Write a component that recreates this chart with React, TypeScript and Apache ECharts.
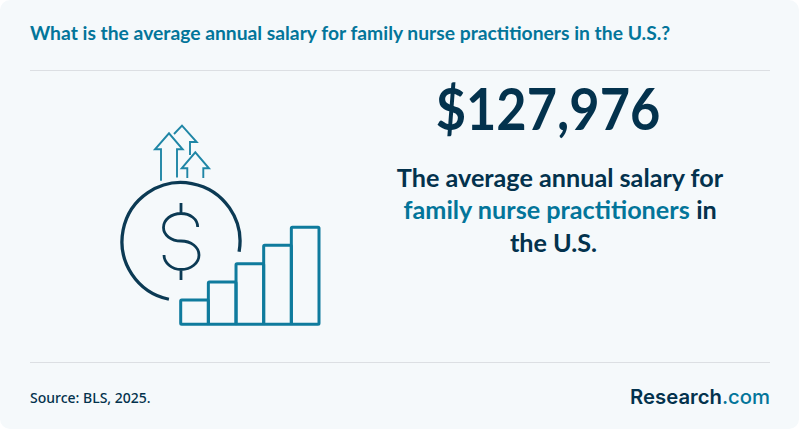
import React, { useEffect, useRef } from "react";
import * as echarts from "echarts";

const titleText = "What is the average annual salary for family nurse practitioners in the U.S.?";
const headlineValue = "$127,976";
const descriptionLines = ["The average annual salary for", "family nurse practitioners", " in", "the U.S."];
const sourceText = "Source: BLS, 2025.";
const logoParts = ["Research", ".com"];

// the stairs in the icon
const stepNames = ["a", "b", "c", "d", "e"];
const stepValues = [27.3, 45.3, 63.6, 82, 100];

const NAVY = "#03324d";
const TEAL = "#03759a";
const ARROW = "#1f86a6";
const RULE = "#dcdfe3";
const BG = "#f5f9fb";

const dollarPath =
  "M197.7 227C197.7 219 190 213.5 181 213.5C171 213.5 163.5 220 163.5 227.5C163.5 235 171 241 181 241C191 241 199 247 199 255C199 263 191 269.5 181 269.5C172 269.5 164 263 164 255M181 203V213.5M181 269.5V280";

echarts.graphic.registerShape("dollarSign", echarts.graphic.extendPath(dollarPath, {}) as any);

const deg = (d: number) => (d * Math.PI) / 180;

const App: React.FC = () => {
  const chartRef = useRef<HTMLDivElement>(null);

  useEffect(() => {
    if (!chartRef.current) return;
    const chart = echarts.init(chartRef.current, undefined, { renderer: "svg" });

    const arrowStyle = { stroke: ARROW, fill: "none", lineWidth: 1.9 };

    const option: any = {
      animation: false,
      backgroundColor: "#ffffff",
      grid: { left: 180.7, top: 225.8, width: 138.3, height: 100, containLabel: false },
      xAxis: { type: "category", data: stepNames, show: false },
      yAxis: { type: "value", min: 0, max: 100, show: false },
      series: [
        {
          type: "bar",
          data: stepValues,
          barWidth: 30.66,
          silent: true,
          z: 5,
          itemStyle: { color: "rgba(0,0,0,0)", borderColor: "#0f7b9d", borderWidth: 3, borderRadius: 1 },
        },
      ],
      graphic: [
        { type: "rect", z: -10, shape: { x: 0, y: 0, width: 799, height: 429, r: 10 }, style: { fill: BG } },
        { type: "line", shape: { x1: 30, y1: 70.5, x2: 770, y2: 70.5 }, style: { stroke: RULE, lineWidth: 1 } },
        { type: "line", shape: { x1: 30, y1: 362.5, x2: 770, y2: 362.5 }, style: { stroke: RULE, lineWidth: 1 } },
        {
          type: "text",
          x: 30,
          y: 32,
          style: {
            text: titleText,
            fill: TEAL,
            font: "bold 19.3px Lato",
            textVerticalAlign: "middle",
          },
        },
        {
          type: "text",
          x: 548,
          y: 108,
          scaleX: 0.918,
          style: {
            text: headlineValue,
            fill: NAVY,
            font: "bold 57px Lato",
            textAlign: "center",
            textVerticalAlign: "middle",
          },
        },
        {
          type: "text",
          x: 560,
          y: 177,
          style: {
            text: descriptionLines[0],
            fill: NAVY,
            font: "bold 25.2px Lato",
            textAlign: "center",
            textVerticalAlign: "middle",
          },
        },
        {
          type: "text",
          x: 560,
          y: 209,
          style: {
            text: `{a|${descriptionLines[1]}}{b|${descriptionLines[2]}}`,
            textAlign: "center",
            textVerticalAlign: "middle",
            rich: {
              a: { fill: TEAL, font: "bold 25.2px Lato" },
              b: { fill: NAVY, font: "bold 25.2px Lato" },
            },
          },
        },
        {
          type: "text",
          x: 553.5,
          y: 242,
          style: {
            text: descriptionLines[3],
            fill: NAVY,
            font: "bold 25.2px Lato",
            textAlign: "center",
            textVerticalAlign: "middle",
          },
        },
        {
          type: "text",
          x: 30,
          y: 397,
          style: {
            text: sourceText,
            fill: NAVY,
            font: "500 14px 'Noto Sans'",
            textVerticalAlign: "middle",
          },
        },
        {
          type: "text",
          x: 770,
          y: 396,
          style: {
            text: `{a|${logoParts[0]}}{b|${logoParts[1]}}`,
            textAlign: "right",
            textVerticalAlign: "middle",
            rich: {
              a: { fill: NAVY, font: "600 20.3px Inter" },
              b: { fill: TEAL, font: "500 20.3px Inter" },
            },
          },
        },
        // coin
        {
          type: "arc",
          shape: { cx: 181, cy: 241.5, r: 59, startAngle: deg(101.8), endAngle: deg(10), clockwise: true },
          style: { stroke: "#0b3a54", fill: "none", lineWidth: 3.3 },
        },
        { type: "dollarSign", style: { stroke: "#0b3a54", fill: "none", lineWidth: 2.8 } },
        // arrows
        {
          type: "polyline",
          shape: { points: [[161, 180.7], [161, 149.3], [155, 149.3], [169, 133.3], [182.7, 149.3], [177, 149.3], [177, 177.5]] },
          style: arrowStyle,
        },
        {
          type: "polyline",
          shape: { points: [[174, 134], [182, 125.7], [196.7, 142], [190, 142], [190, 155]] },
          style: arrowStyle,
        },
        {
          type: "polyline",
          shape: { points: [[187.3, 178], [187.3, 168.3], [181.7, 168.3], [195.3, 152.3], [209, 168.3], [203.3, 168.3], [203.3, 178]] },
          style: arrowStyle,
        },
      ],
    };

    chart.setOption(option);

    return () => {
      chart.dispose();
    };
  }, []);

  return <div ref={chartRef} style={{ position: "fixed", left: 0, top: 0, width: 799, height: 429 }} />;
};

export default App;
